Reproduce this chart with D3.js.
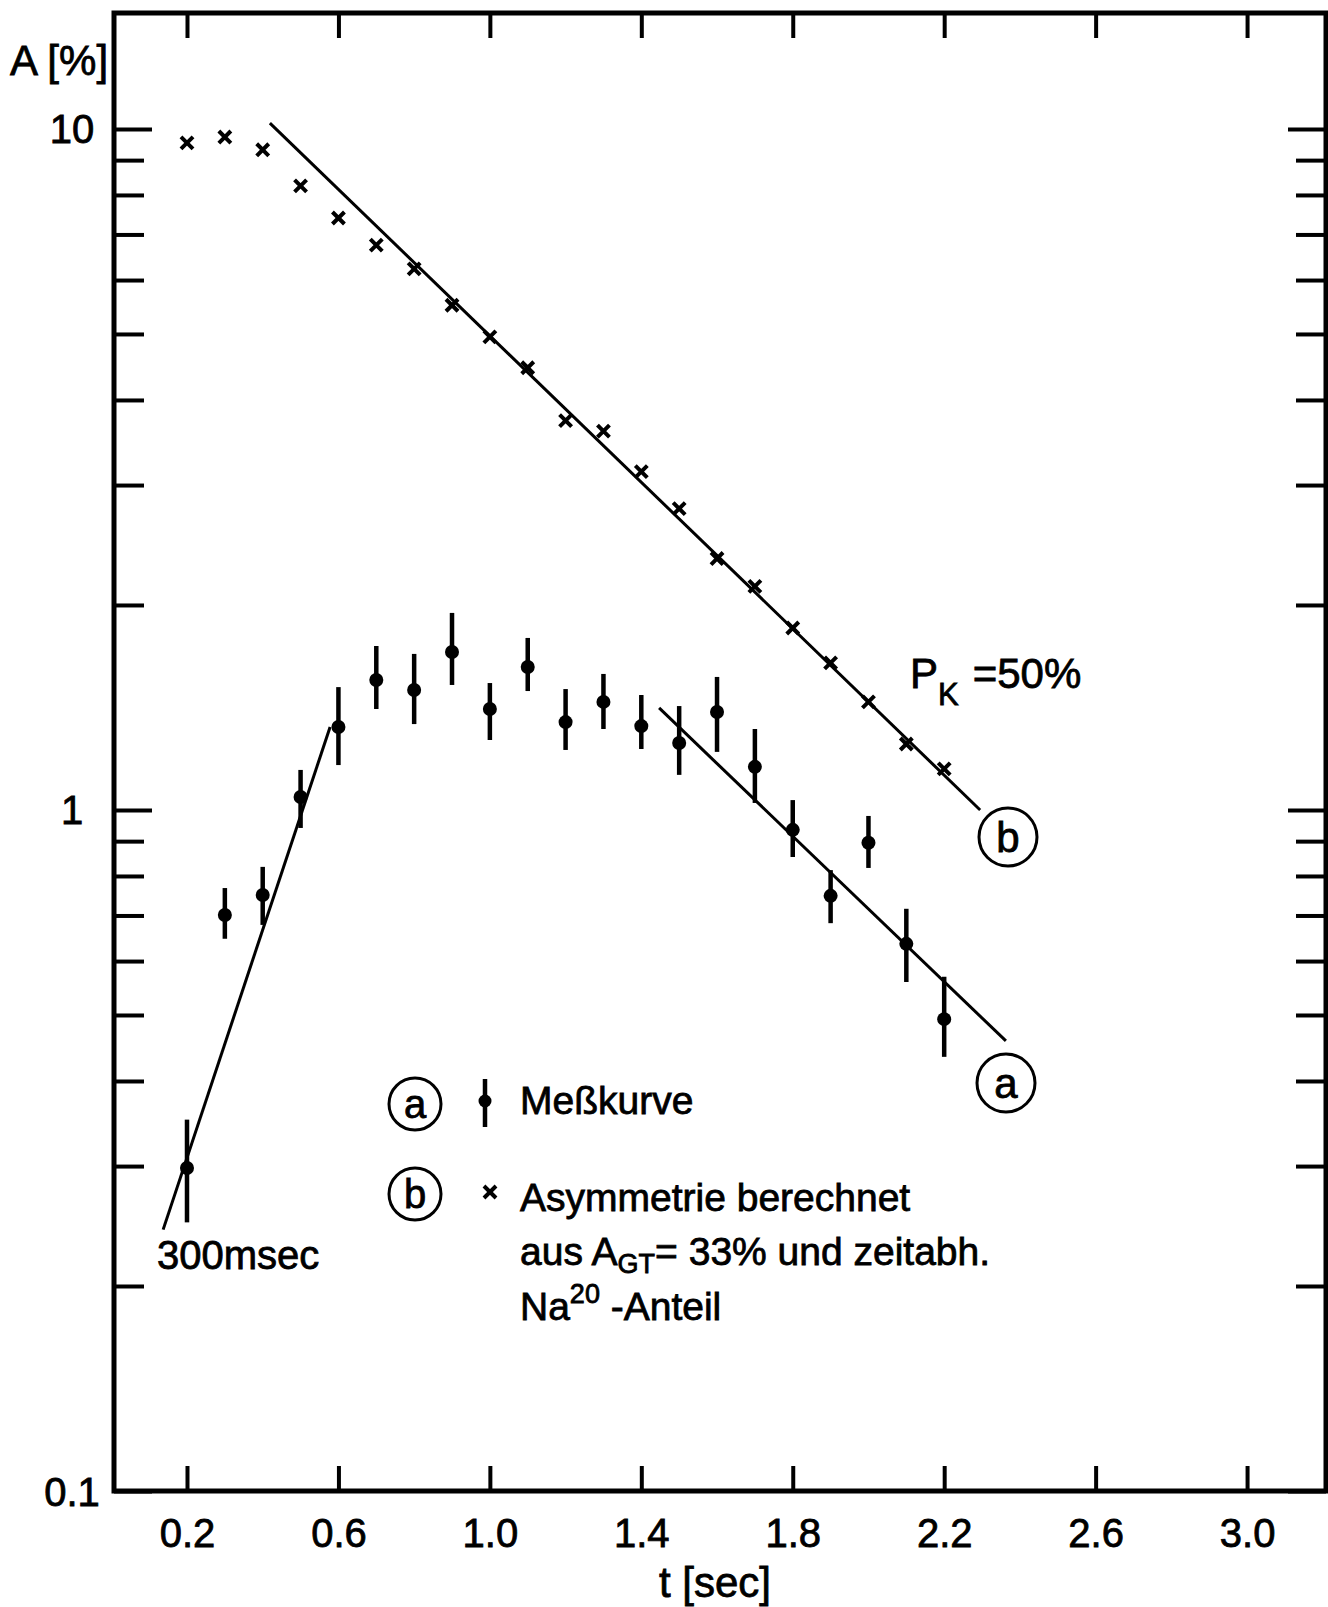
<!DOCTYPE html>
<html lang="de">
<head>
    <meta charset="UTF-8">
    <title>Asymmetrie A(t)</title>
    <script src="https://d3js.org/d3.v7.min.js"></script>
    <style>
        body {
            margin: 0;
            background: #fff;
        }
        svg {
            display: block;
            font-family: "Liberation Sans", Arial, sans-serif;
        }
        svg text {
            fill: #000;
            stroke: #000;
            stroke-width: 0.8;
        }
        .tick line {
            stroke: #000;
            stroke-width: 4;
        }
        .tick text {
            font-size: 40px;
        }
    </style>
</head>
<body>
<main></main>
<script>
    // time axis (sec)
    var tValues = [0.2, 0.3, 0.4, 0.5, 0.6, 0.7, 0.8, 0.9, 1.0, 1.1, 1.2,
                   1.3, 1.4, 1.5, 1.6, 1.7, 1.8, 1.9, 2.0, 2.1, 2.2];

    // (a) Meßkurve, A in %, with error bar ends
    var measured     = [0.298, 0.701, 0.750, 1.045, 1.324, 1.552, 1.500, 1.706, 1.407, 1.622, 1.346,
                        1.441, 1.328, 1.254, 1.393, 1.157, 0.935, 0.748, 0.895, 0.636, 0.493];
    var measuredLow  = [0.248, 0.647, 0.678, 0.941, 1.164, 1.407, 1.337, 1.526, 1.267, 1.495, 1.225,
                        1.315, 1.229, 1.126, 1.217, 1.024, 0.853, 0.682, 0.822, 0.559, 0.434];
    var measuredHigh = [0.351, 0.768, 0.825, 1.145, 1.515, 1.741, 1.695, 1.947, 1.536, 1.789, 1.505,
                        1.584, 1.475, 1.421, 1.568, 1.315, 1.034, 0.816, 0.980, 0.716, 0.569];

    // (b) Asymmetrie berechnet
    var calculated = [9.54, 9.73, 9.32, 8.25, 7.40, 6.75, 6.23, 5.51, 4.95, 4.46, 3.73,
                      3.60, 3.14, 2.77, 2.34, 2.13, 1.85, 1.644, 1.441, 1.250, 1.149];

    // straight fit lines (end points: t, A)
    var riseLineT   = [0.137, 0.578], riseLineA   = [0.242, 1.324];
    var decayLineAT = [1.447, 2.363], decayLineAA = [1.412, 0.458];
    var decayLineBT = [0.419, 2.295], decayLineBA = [10.2, 1.0];

    // tick labels
    var xTicks = [0.2, 0.6, 1.0, 1.4, 1.8, 2.2, 2.6, 3.0];
    var xTickLabels = ['0.2', '0.6', '1.0', '1.4', '1.8', '2.2', '2.6', '3.0'];
    var yMajor = [0.1, 1, 10];
    var yMajorLabels = ['0.1', '1', '10'];
    var yMinor = [0.2, 0.3, 0.4, 0.5, 0.6, 0.7, 0.8, 0.9, 2, 3, 4, 5, 6, 7, 8, 9];

    var w = 1328, h = 1607;
    var m = {top: 13, left: 114, bottom: 116, right: 2};

    var x = d3.scaleLinear()
              .domain([0.0072, 3.2085])
              .range([m.left, w - m.right]);
    var y = d3.scaleLog()
              .domain([0.1, 14.8])
              .range([h - m.bottom, m.top]);

    var svg = d3.select('main')
                .append('svg')
                .attr('width', w)
                .attr('height', h);

    var x0 = x.range()[0], x1 = x.range()[1];
    var yB = y.range()[0], yT = y.range()[1];

    // x axis bottom, ticks pointing inside
    var gxb = svg.append('g')
        .attr('transform', 'translate(0,' + yB + ')')
        .call(d3.axisBottom(x).tickValues(xTicks).tickSize(-25).tickPadding(28)
              .tickFormat(function(d, i){ return xTickLabels[i]; }));
    gxb.select('.domain').remove();

    var gxt = svg.append('g')
        .attr('transform', 'translate(0,' + yT + ')')
        .call(d3.axisTop(x).tickValues(xTicks).tickSize(-25).tickFormat(''));
    gxt.select('.domain').remove();

    // y axis left + right
    var gyl = svg.append('g')
        .attr('transform', 'translate(' + x0 + ',0)')
        .call(d3.axisLeft(y).tickValues(yMinor).tickSize(-30).tickFormat(''));
    gyl.select('.domain').remove();

    var gylm = svg.append('g')
        .attr('transform', 'translate(' + x0 + ',0)')
        .call(d3.axisLeft(y).tickValues(yMajor).tickSize(-38)
              .tickFormat(function(d, i){ return yMajorLabels[i]; }));
    gylm.select('.domain').remove();
    gylm.selectAll('.tick text')
        .attr('text-anchor', 'middle')
        .attr('x', -42)
        .attr('dy', '0.35em');

    var gyr = svg.append('g')
        .attr('transform', 'translate(' + x1 + ',0)')
        .call(d3.axisRight(y).tickValues(yMinor).tickSize(-30).tickFormat(''));
    gyr.select('.domain').remove();

    var gyrm = svg.append('g')
        .attr('transform', 'translate(' + x1 + ',0)')
        .call(d3.axisRight(y).tickValues(yMajor).tickSize(-38).tickFormat(''));
    gyrm.select('.domain').remove();

    // frame
    svg.append('rect')
        .attr('x', x0)
        .attr('y', yT)
        .attr('width', x1 - x0)
        .attr('height', yB - yT)
        .attr('fill', 'none')
        .attr('stroke', '#000')
        .attr('stroke-width', 5);

    // fit lines
    var fits = [
        {t: riseLineT, a: riseLineA},
        {t: decayLineAT, a: decayLineAA},
        {t: decayLineBT, a: decayLineBA}
    ];
    svg.append('g').selectAll('line')
        .data(fits)
        .enter()
        .append('line')
        .attr('x1', function(d){ return x(d.t[0]); })
        .attr('y1', function(d){ return y(d.a[0]); })
        .attr('x2', function(d){ return x(d.t[1]); })
        .attr('y2', function(d){ return y(d.a[1]); })
        .attr('stroke', '#000')
        .attr('stroke-width', 3);

    // (a) error bars + dots
    var pts = tValues.map(function(t, i){
        return {t: t, v: measured[i], lo: measuredLow[i], hi: measuredHigh[i], c: calculated[i]};
    });

    svg.append('g').selectAll('line')
        .data(pts)
        .enter()
        .append('line')
        .attr('x1', function(d){ return x(d.t); })
        .attr('x2', function(d){ return x(d.t); })
        .attr('y1', function(d){ return y(d.lo); })
        .attr('y2', function(d){ return y(d.hi); })
        .attr('stroke', '#000')
        .attr('stroke-width', 4.5);

    svg.append('g').selectAll('circle')
        .data(pts)
        .enter()
        .append('circle')
        .attr('cx', function(d){ return x(d.t); })
        .attr('cy', function(d){ return y(d.v); })
        .attr('r', 7)
        .attr('fill', '#000');

    // (b) crosses
    var cross = d3.symbol(d3.symbolX, 96);
    svg.append('g').selectAll('path')
        .data(pts)
        .enter()
        .append('path')
        .attr('d', cross)
        .attr('transform', function(d){ return 'translate(' + x(d.t) + ',' + y(d.c) + ')'; })
        .attr('fill', 'none')
        .attr('stroke', '#000')
        .attr('stroke-width', 4);

    // axis titles
    svg.append('text')
        .attr('x', 10).attr('y', 75)
        .attr('font-size', 42)
        .text('A [%]');
    svg.append('text')
        .attr('x', 659).attr('y', 1597)
        .attr('font-size', 42)
        .text('t [sec]');

    // circled letters
    function circled(cx, cy, r, letter, fs){
        svg.append('circle')
            .attr('cx', cx).attr('cy', cy).attr('r', r)
            .attr('fill', 'none').attr('stroke', '#000').attr('stroke-width', 3);
        svg.append('text')
            .attr('x', cx).attr('y', cy)
            .attr('dy', '0.36em')
            .attr('text-anchor', 'middle')
            .attr('font-size', fs)
            .text(letter);
    }
    circled(1008, 837, 29, 'b', 42);
    circled(1006, 1083, 29, 'a', 42);
    circled(415, 1104, 26, 'a', 40);
    circled(415, 1194, 26, 'b', 40);

    // P_K = 50%
    var pk = svg.append('text')
        .attr('x', 910).attr('y', 688)
        .attr('font-size', 42);
    pk.append('tspan').text('P');
    pk.append('tspan').attr('font-size', 31).attr('dy', 17).text('K');
    pk.append('tspan').attr('dy', -17).attr('dx', 14).text('=50%');

    // 300 msec
    svg.append('text')
        .attr('x', 157).attr('y', 1269)
        .attr('font-size', 40)
        .text('300msec');

    // legend
    svg.append('line')
        .attr('x1', 485).attr('x2', 485)
        .attr('y1', 1079).attr('y2', 1127)
        .attr('stroke', '#000').attr('stroke-width', 4.5);
    svg.append('circle')
        .attr('cx', 485).attr('cy', 1101).attr('r', 6.5)
        .attr('fill', '#000');
    svg.append('path')
        .attr('d', cross)
        .attr('transform', 'translate(490,1192)')
        .attr('fill', 'none').attr('stroke', '#000').attr('stroke-width', 4);

    var fs = 39;
    svg.append('text').attr('x', 520).attr('y', 1114).attr('font-size', fs).text('Meßkurve');
    svg.append('text').attr('x', 520).attr('y', 1211).attr('font-size', fs).text('Asymmetrie berechnet');

    var l3 = svg.append('text').attr('x', 520).attr('y', 1265).attr('font-size', fs);
    l3.append('tspan').text('aus A');
    l3.append('tspan').attr('font-size', 27).attr('dy', 8).text('GT');
    l3.append('tspan').attr('dy', -8).text('= 33% und zeitabh.');

    var l4 = svg.append('text').attr('x', 520).attr('y', 1320).attr('font-size', fs);
    l4.append('tspan').text('Na');
    l4.append('tspan').attr('font-size', 27).attr('dy', -17).text('20');
    l4.append('tspan').attr('dy', 17).text(' -Anteil');
</script>
</body>
</html>
